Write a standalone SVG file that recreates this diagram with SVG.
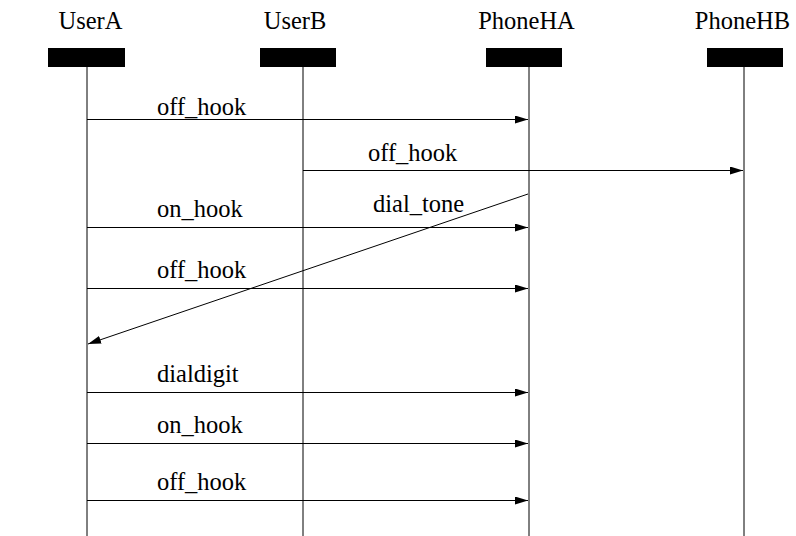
<svg xmlns="http://www.w3.org/2000/svg" width="796" height="536" viewBox="0 0 796 536">
  <style>
    text { font-family: 'Liberation Serif', 'Times New Roman', 'DejaVu Serif', serif; font-size: 24.5px; fill: #000; }
    .hdr { text-anchor: middle; }
    .box { fill: #000; }
    .life { stroke: #000; stroke-width: 1; fill: none; }
    .msg { stroke: #000; stroke-width: 1; fill: none; marker-end: url(#arrow); }
  </style>
  <defs>
    <marker id="arrow" markerUnits="userSpaceOnUse" markerWidth="14" markerHeight="10" refX="13" refY="4" orient="auto">
      <path d="M0,0 L13,4 L0,8 Z" fill="#000"/>
    </marker>
  </defs>
  <rect width="796" height="536" fill="#fff"/>

  <!-- participants: name, head box and lifeline -->
  <g id="UserA">
    <text class="hdr" x="90.5" y="29">UserA</text>
    <rect class="box" x="48" y="48" width="77" height="19"/>
    <line class="life" x1="87" y1="67" x2="87" y2="536"/>
  </g>
  <g id="UserB">
    <text class="hdr" x="295" y="29">UserB</text>
    <rect class="box" x="260" y="48" width="76" height="19"/>
    <line class="life" x1="303" y1="67" x2="303" y2="536"/>
  </g>
  <g id="PhoneHA">
    <text class="hdr" x="526.5" y="29">PhoneHA</text>
    <rect class="box" x="486" y="48" width="76" height="19"/>
    <line class="life" x1="529" y1="67" x2="529" y2="536"/>
  </g>
  <g id="PhoneHB">
    <text class="hdr" x="742.5" y="29">PhoneHB</text>
    <rect class="box" x="707" y="48" width="76" height="19"/>
    <line class="life" x1="744" y1="67" x2="744" y2="536"/>
  </g>

  <!-- messages -->
  <g id="connectors">
    <line class="msg" x1="87" y1="119.5" x2="528" y2="119.5"/>
    <text x="157" y="115">off_hook</text>

    <line class="msg" x1="303" y1="170.5" x2="743" y2="170.5"/>
    <text x="368" y="161">off_hook</text>

    <line class="msg" x1="87" y1="227.5" x2="528" y2="227.5"/>
    <text x="157" y="217">on_hook</text>

    <line class="msg" x1="528" y1="194" x2="88" y2="344"/>
    <text x="373" y="212">dial_tone</text>

    <line class="msg" x1="87" y1="288.5" x2="528" y2="288.5"/>
    <text x="157" y="278">off_hook</text>

    <line class="msg" x1="87" y1="392.5" x2="528" y2="392.5"/>
    <text x="157" y="382">dialdigit</text>

    <line class="msg" x1="87" y1="443.5" x2="528" y2="443.5"/>
    <text x="157" y="433">on_hook</text>

    <line class="msg" x1="87" y1="500.5" x2="528" y2="500.5"/>
    <text x="157" y="490">off_hook</text>
  </g>
</svg>
